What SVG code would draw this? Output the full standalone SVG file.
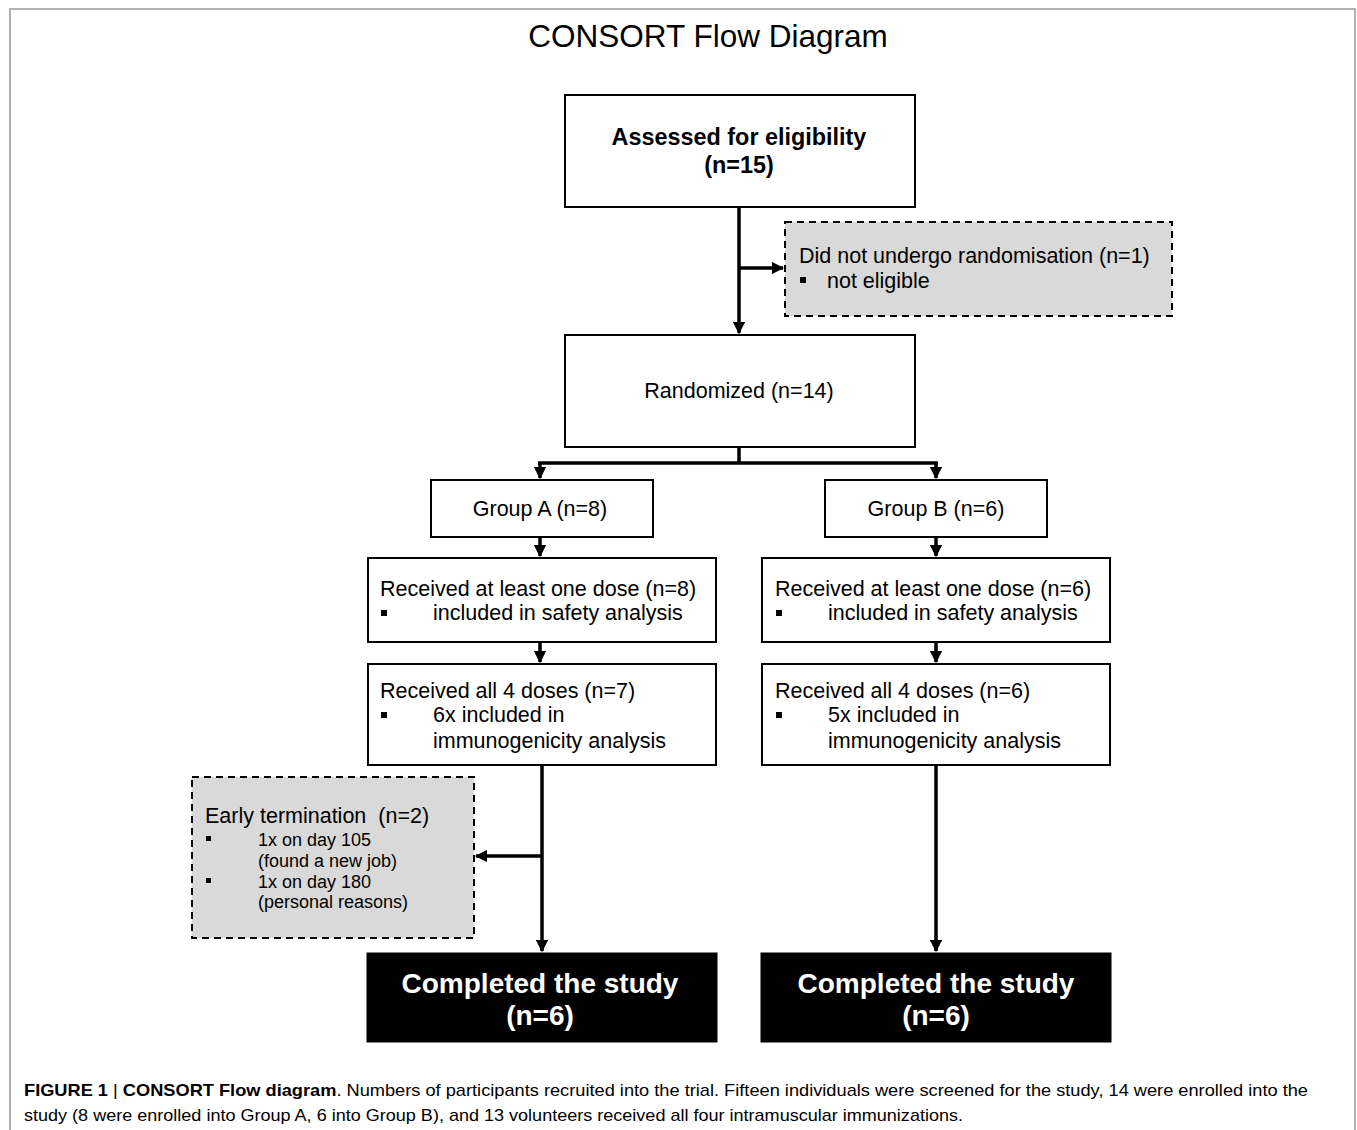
<svg xmlns="http://www.w3.org/2000/svg" width="1357" height="1130" viewBox="0 0 1357 1130">
<style>
text{font-family:"Liberation Sans",Arial,sans-serif;fill:#000}
.box{fill:#fff;stroke:#000;stroke-width:2}
.dash{fill:#d9d9d9;stroke:#000;stroke-width:2;stroke-dasharray:7,5}
.blk{fill:#000;stroke:#000}
.t20{font-size:21.5px}
.t17{font-size:18px}
.bold{font-weight:bold}
.w{fill:#fff;font-weight:bold;font-size:28px}
.ln{stroke:#000;stroke-width:3.5;fill:none}
</style>
<defs>
<marker id="ah" viewBox="0 0 10 10" refX="9" refY="5" markerWidth="3.5" markerHeight="3.5" orient="auto" markerUnits="strokeWidth">
<path d="M0,0 L10,5 L0,10 z" fill="#000"/>
</marker>
</defs>
<rect x="0" y="0" width="1357" height="1130" fill="#fff"/>
<rect x="10" y="9" width="1345" height="1140" fill="none" stroke="#999" stroke-width="1.5"/>
<text x="708" y="47" font-size="31.5" text-anchor="middle">CONSORT Flow Diagram</text>

<g id="connectors">
<path class="ln" d="M739,207 V333" marker-end="url(#ah)"/>
<path class="ln" d="M739,268 H783" marker-end="url(#ah)"/>
<path class="ln" d="M739,447 V463"/>
<path class="ln" d="M538,463 H938"/>
<path class="ln" d="M540,463 V478" marker-end="url(#ah)"/>
<path class="ln" d="M936,463 V478" marker-end="url(#ah)"/>
<path class="ln" d="M540,537 V556" marker-end="url(#ah)"/>
<path class="ln" d="M936,537 V556" marker-end="url(#ah)"/>
<path class="ln" d="M540,642 V662" marker-end="url(#ah)"/>
<path class="ln" d="M936,642 V662" marker-end="url(#ah)"/>
<path class="ln" d="M542,765 V951" marker-end="url(#ah)"/>
<path class="ln" d="M542,856 H476" marker-end="url(#ah)"/>
<path class="ln" d="M936,765 V951" marker-end="url(#ah)"/>
</g>

<g id="assessed">
<rect class="box" x="565" y="95" width="350" height="112"/>
<text x="739" y="145" font-size="23.4" class="bold" text-anchor="middle">Assessed for eligibility</text>
<text x="739" y="173" font-size="23.4" class="bold" text-anchor="middle">(n=15)</text>
</g>

<g id="excluded">
<rect class="dash" x="785" y="222" width="387" height="94"/>
<text x="799" y="263" class="t20">Did not undergo randomisation (n=1)</text>
<rect x="800" y="277" width="6" height="6" fill="#000"/>
<text x="827" y="288" class="t20">not eligible</text>
</g>

<g id="randomized">
<rect class="box" x="565" y="335" width="350" height="112"/>
<text x="739" y="398" class="t20" text-anchor="middle">Randomized (n=14)</text>
</g>

<g id="groupA">
<rect class="box" x="431" y="480" width="222" height="57"/>
<text x="540" y="516" class="t20" text-anchor="middle">Group A (n=8)</text>
</g>
<g id="groupB">
<rect class="box" x="825" y="480" width="222" height="57"/>
<text x="936" y="516" class="t20" text-anchor="middle">Group B (n=6)</text>
</g>

<g id="doseA">
<rect class="box" x="368" y="558" width="348" height="84"/>
<text x="380" y="596" class="t20">Received at least one dose (n=8)</text>
<rect x="381" y="610" width="6" height="6" fill="#000"/>
<text x="433" y="620" class="t20">included in safety analysis</text>
</g>
<g id="doseB">
<rect class="box" x="762" y="558" width="348" height="84"/>
<text x="775" y="596" class="t20">Received at least one dose (n=6)</text>
<rect x="776" y="610" width="6" height="6" fill="#000"/>
<text x="828" y="620" class="t20">included in safety analysis</text>
</g>

<g id="allA">
<rect class="box" x="368" y="664" width="348" height="101"/>
<text x="380" y="698" class="t20">Received all 4 doses (n=7)</text>
<rect x="381" y="712" width="6" height="6" fill="#000"/>
<text x="433" y="722" class="t20">6x included in</text>
<text x="433" y="748" class="t20">immunogenicity analysis</text>
</g>
<g id="allB">
<rect class="box" x="762" y="664" width="348" height="101"/>
<text x="775" y="698" class="t20">Received all 4 doses (n=6)</text>
<rect x="776" y="712" width="6" height="6" fill="#000"/>
<text x="828" y="722" class="t20">5x included in</text>
<text x="828" y="748" class="t20">immunogenicity analysis</text>
</g>

<g id="early">
<rect class="dash" x="192" y="777" width="282" height="161"/>
<text x="205" y="823" class="t20" xml:space="preserve">Early termination  (n=2)</text>
<rect x="206" y="836" width="5" height="5" fill="#000"/>
<text x="258" y="846" class="t17">1x on day 105</text>
<text x="258" y="867" class="t17">(found a new job)</text>
<rect x="206" y="878" width="5" height="5" fill="#000"/>
<text x="258" y="888" class="t17">1x on day 180</text>
<text x="258" y="908" class="t17">(personal reasons)</text>
</g>

<g id="completeA">
<rect class="blk" x="367" y="953" width="350" height="89"/>
<text x="540" y="993" class="w" text-anchor="middle">Completed the study</text>
<text x="540" y="1025" class="w" text-anchor="middle">(n=6)</text>
</g>
<g id="completeB">
<rect class="blk" x="761" y="953" width="350" height="89"/>
<text x="936" y="993" class="w" text-anchor="middle">Completed the study</text>
<text x="936" y="1025" class="w" text-anchor="middle">(n=6)</text>
</g>

<text x="24" y="1096" font-size="17" fill="#333" textLength="1284" lengthAdjust="spacingAndGlyphs"><tspan font-weight="bold">FIGURE 1</tspan> | <tspan font-weight="bold">CONSORT Flow diagram</tspan>. Numbers of participants recruited into the trial. Fifteen individuals were screened for the study, 14 were enrolled into the</text>
<text x="24" y="1121" font-size="17" fill="#333" textLength="939" lengthAdjust="spacingAndGlyphs">study (8 were enrolled into Group A, 6 into Group B), and 13 volunteers received all four intramuscular immunizations.</text>
</svg>
